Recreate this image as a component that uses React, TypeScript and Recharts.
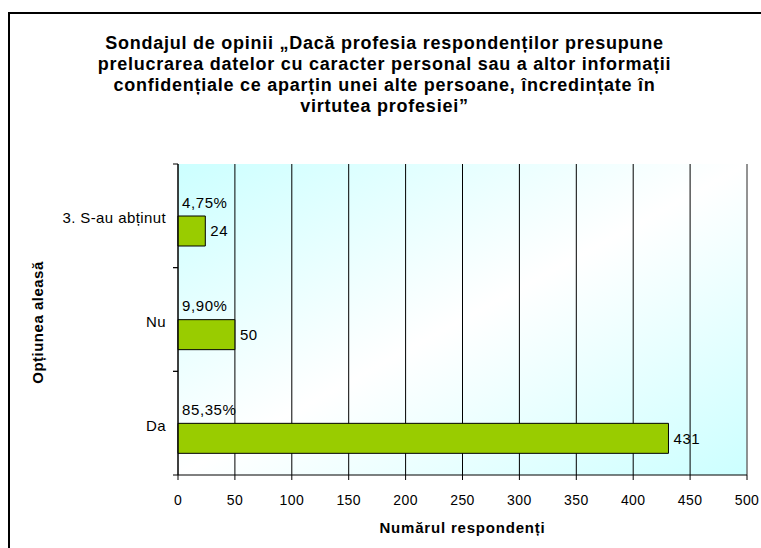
import React from 'react';
import { BarChart, Bar, XAxis, YAxis, CartesianGrid, LabelList, ReferenceLine } from 'recharts';

const titleLines = [
  'Sondajul de opinii „Dacă profesia respondenților presupune',
  'prelucrarea datelor cu caracter personal sau a altor informații',
  'confidențiale ce aparțin unei alte persoane, încredințate în',
  'virtutea profesiei”',
];
const categories = ['3. S-au abținut', 'Nu', 'Da'];
const counts = [24, 50, 431];
const percents = ['4,75%', '9,90%', '85,35%'];
const xTicks = [0, 50, 100, 150, 200, 250, 300, 350, 400, 450, 500];
const xTitle = 'Numărul respondenți';
const yTitle = 'Opțiunea aleasă';

const data = categories.map((name, i) => ({ name, value: counts[i], pct: percents[i] }));

const FONT = '"Liberation Sans", Arial, sans-serif';

const YTick = (props: any) => {
  const { x, y, payload } = props;
  const off = payload && payload.offset ? payload.offset : 0;
  const ax = x + 12;
  return (
    <g>
      <line x1={ax - 5} x2={ax} y1={y - off} y2={y - off} stroke="#000" />
      <line x1={ax - 5} x2={ax} y1={y + off} y2={y + off} stroke="#000" />
      <text x={x} y={y + 2} textAnchor="end" dominantBaseline="central" fontSize={15} letterSpacing={0.4} fill="#000" fontFamily={FONT}>
        {payload.value}
      </text>
    </g>
  );
};

const PctLabel = (props: any) => {
  const { x, y, value } = props;
  return (
    <text x={x + 4} y={y - 14} dominantBaseline="central" fontSize={15} letterSpacing={0.6} fill="#000" fontFamily={FONT}>
      {value}
    </text>
  );
};

export default function App() {
  return (
    <div style={{ position: 'fixed', left: 0, top: 0, width: 761, height: 548, overflow: 'hidden', background: '#fff', fontFamily: FONT }}>
      <div style={{ position: 'absolute', left: 8, top: 12, width: 1000, height: 1000, borderLeft: '2px solid #000', borderTop: '2px solid #000' }} />
      <div style={{ position: 'absolute', left: 8, top: 33, width: 753, textAlign: 'center', fontWeight: 'bold', fontSize: 18, letterSpacing: '0.75px', lineHeight: '21px', color: '#000' }}>
        {titleLines.map((l, i) => (<div key={i}>{l}</div>))}
      </div>
      <div style={{ position: 'absolute', left: 0, top: 0 }}>
        <BarChart width={761} height={548} data={data} layout="vertical" barGap={0} barSize={30}
          margin={{ top: 164, right: 14, bottom: 0, left: 0 }}>
          <defs>
            <linearGradient id="plotBg" x1="0" y1="0" x2="1" y2="1">
              <stop offset="0" stopColor="#ccffff" />
              <stop offset="0.5" stopColor="#ffffff" />
              <stop offset="1" stopColor="#ccffff" />
            </linearGradient>
          </defs>
          <CartesianGrid horizontal={false} stroke="#000" fill="url(#plotBg)" fillOpacity={1} />
          <ReferenceLine x={500} stroke="#a6a6a6" />
          <XAxis type="number" domain={[0, 500]} ticks={xTicks} interval={0} height={73}
            axisLine={{ stroke: '#000' }} tickLine={{ stroke: '#000' }} tickSize={5} tickMargin={15}
            tick={{ fontSize: 14, fill: '#000', fontFamily: FONT, letterSpacing: 0.4 }}
            label={{ value: xTitle, content: (p: any) => (
              <text x={p.viewBox.x + p.viewBox.width / 2} y={p.viewBox.y + 52} textAnchor="middle" dominantBaseline="central"
                fontSize={15} letterSpacing={0.8} fontWeight="bold" fill="#000" fontFamily={FONT}>{xTitle}</text>
            ) }} />
          <YAxis type="category" dataKey="name" width={178} axisLine={{ stroke: '#000' }} tickLine={false}
            tickSize={5} tickMargin={7} tick={<YTick />}
            label={{ value: yTitle, content: (p: any) => {
              const cx = p.viewBox.x + 37;
              const cy = p.viewBox.y + p.viewBox.height / 2 + 3;
              return (
                <text x={cx} y={cy} transform={`rotate(-90, ${cx}, ${cy})`} textAnchor="middle" dominantBaseline="central"
                  fontSize={15} letterSpacing={0.5} fontWeight="bold" fill="#000" fontFamily={FONT}>{yTitle}</text>
              );
            } }} />
          <Bar dataKey={() => 0} fill="none" isAnimationActive={false} legendType="none" />
          <Bar dataKey="value" fill="#99cc00" stroke="#000" strokeWidth={1} isAnimationActive={false}>
            <LabelList dataKey="value" position="right" offset={5} fontSize={15} letterSpacing={0.6} fill="#000" fontFamily={FONT} />
            <LabelList dataKey="pct" content={<PctLabel />} />
          </Bar>
        </BarChart>
      </div>
    </div>
  );
}
